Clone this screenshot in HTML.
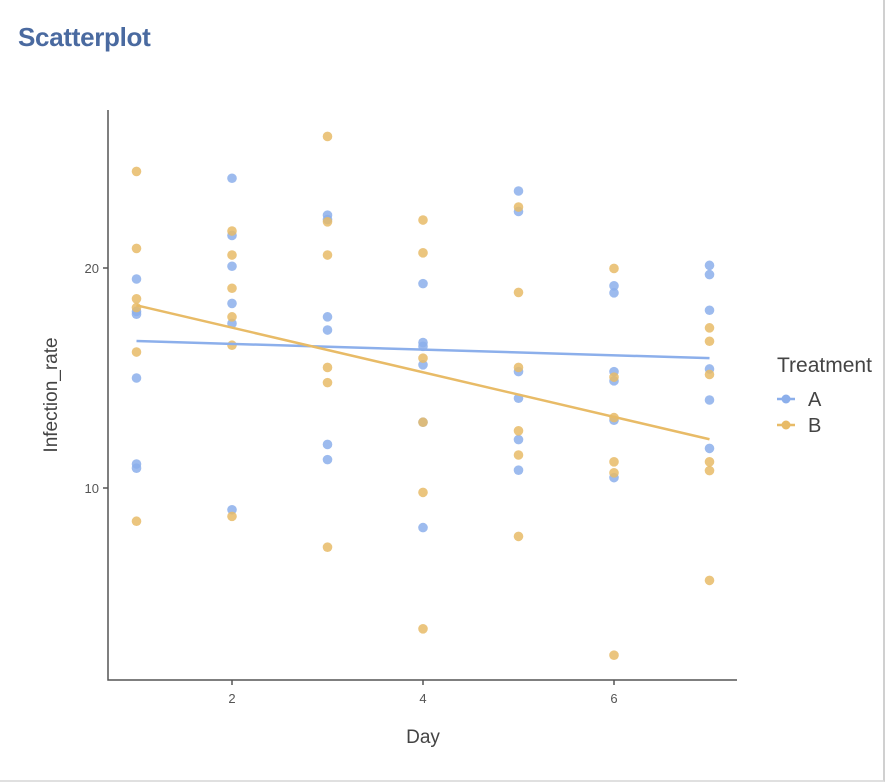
<!DOCTYPE html>
<html><head><meta charset="utf-8"><style>
body{margin:0;background:#fff;width:888px;height:784px;overflow:hidden;font-family:"Liberation Sans",sans-serif}
</style></head><body>
<div style="position:absolute;left:0;top:0;width:883px;height:780px;border-right:2px solid #d0d0d0;border-bottom:2px solid #e0e0e0"></div>
<div style="position:absolute;left:18px;top:22px;font-size:26px;font-weight:bold;color:#4a6aa0;letter-spacing:-0.3px">Scatterplot</div>
<svg id="c" width="888" height="784" style="position:absolute;left:0;top:0"></svg>
<script>
const days=[1,2,3,4,5,6,7];
const seriesA=[[19.5,18.03,17.9,15.0,11.09,10.9],[24.08,21.48,20.08,18.39,17.48,9.01],[22.4,22.2,17.78,17.18,11.98,11.29],[19.29,16.61,16.44,15.6,12.99,8.2],[23.5,22.57,15.29,14.08,12.2,10.81],[19.19,18.87,15.29,14.87,13.08,10.47],[20.12,19.7,18.08,15.41,14.0,11.8]];
const seriesB=[[24.39,20.89,18.6,18.2,16.18,8.49],[21.68,20.59,19.08,17.78,16.49,8.71],[25.98,22.1,20.59,15.48,14.79,7.31],[22.18,20.69,15.9,12.99,9.8,3.6],[22.77,18.89,15.48,12.6,11.5,7.8],[19.98,15.04,13.2,11.19,10.69,2.4],[17.28,16.67,15.16,11.19,10.79,5.8]];
const xTicks=[2,4,6];
const yTicks=[10,20];
const groups=["A","B"];
const colors={A:"#8cafeb",B:"#e8bb67"};
const X=v=>136.5+(v-1)*95.5;
const Y=v=>488-(v-10)*22;
const svg=document.getElementById('c');
const NS="http://www.w3.org/2000/svg";
function mk(t,a){const e=document.createElementNS(NS,t);for(const k in a)e.setAttribute(k,a[k]);svg.appendChild(e);return e;}
function pts(s){const p=[];s.forEach((arr,i)=>arr.forEach(v=>p.push([days[i],v])));return p;}
[["A",seriesA],["B",seriesB]].forEach(([g,s])=>{
  pts(s).forEach(([d,v])=>{
    const c=mk('circle',{cx:X(d),cy:Y(v),r:4.8,fill:colors[g],'fill-opacity':0.85});
    
    
  });
});
[["A",seriesA],["B",seriesB]].forEach(([g,s])=>{
  const p=pts(s);const n=p.length;
  const mx=p.reduce((a,q)=>a+q[0],0)/n,my=p.reduce((a,q)=>a+q[1],0)/n;
  let sxy=0,sxx=0;p.forEach(q=>{sxy+=(q[0]-mx)*(q[1]-my);sxx+=(q[0]-mx)**2;});
  const b=sxy/sxx,a=my-b*mx;
  const l=mk('line',{x1:X(1),y1:Y(a+b),x2:X(7),y2:Y(a+7*b),stroke:colors[g],'stroke-width':2.5});
  
  
});
const ax=mk('path',{d:'M108 110 V680 H737',fill:'none',stroke:'#555','stroke-width':1.5});


xTicks.forEach(t=>{
  const l=mk('line',{x1:X(t),x2:X(t),y1:680,y2:685,stroke:'#555','stroke-width':1.5});
  
  
  const tx=mk('text',{x:X(t),y:703,'text-anchor':'middle','font-size':13,fill:'#555'});
  tx.textContent=t;
  
  
});
yTicks.forEach(t=>{
  const l=mk('line',{x1:103,x2:108,y1:Y(t),y2:Y(t),stroke:'#555','stroke-width':1.5});
  
  
  const tx=mk('text',{x:99,y:Y(t)+5,'text-anchor':'end','font-size':13,fill:'#555'});
  tx.textContent=t;
  
  
});
const xt=mk('text',{x:423,y:743,'text-anchor':'middle','font-size':19,fill:'#444'});
xt.textContent='Day';


const yt=mk('text',{x:0,y:0,'text-anchor':'middle','font-size':19,fill:'#444',transform:'translate(57,395) rotate(-90)'});
yt.textContent='Infection_rate';


const lt=mk('text',{x:777,y:372,'font-size':21,fill:'#444'});
lt.textContent='Treatment';


groups.forEach((g,i)=>{
  const y=399+i*26;
  const l=mk('line',{x1:777,x2:795,y1:y,y2:y,stroke:colors[g],'stroke-width':2.5});
  
  
  const c=mk('circle',{cx:786,cy:y,r:4.5,fill:colors[g]});
  
  
  const t=mk('text',{x:808,y:y+7,'font-size':20,fill:'#444'});
  t.textContent=g;
  
  
});
</script>
</body></html>
